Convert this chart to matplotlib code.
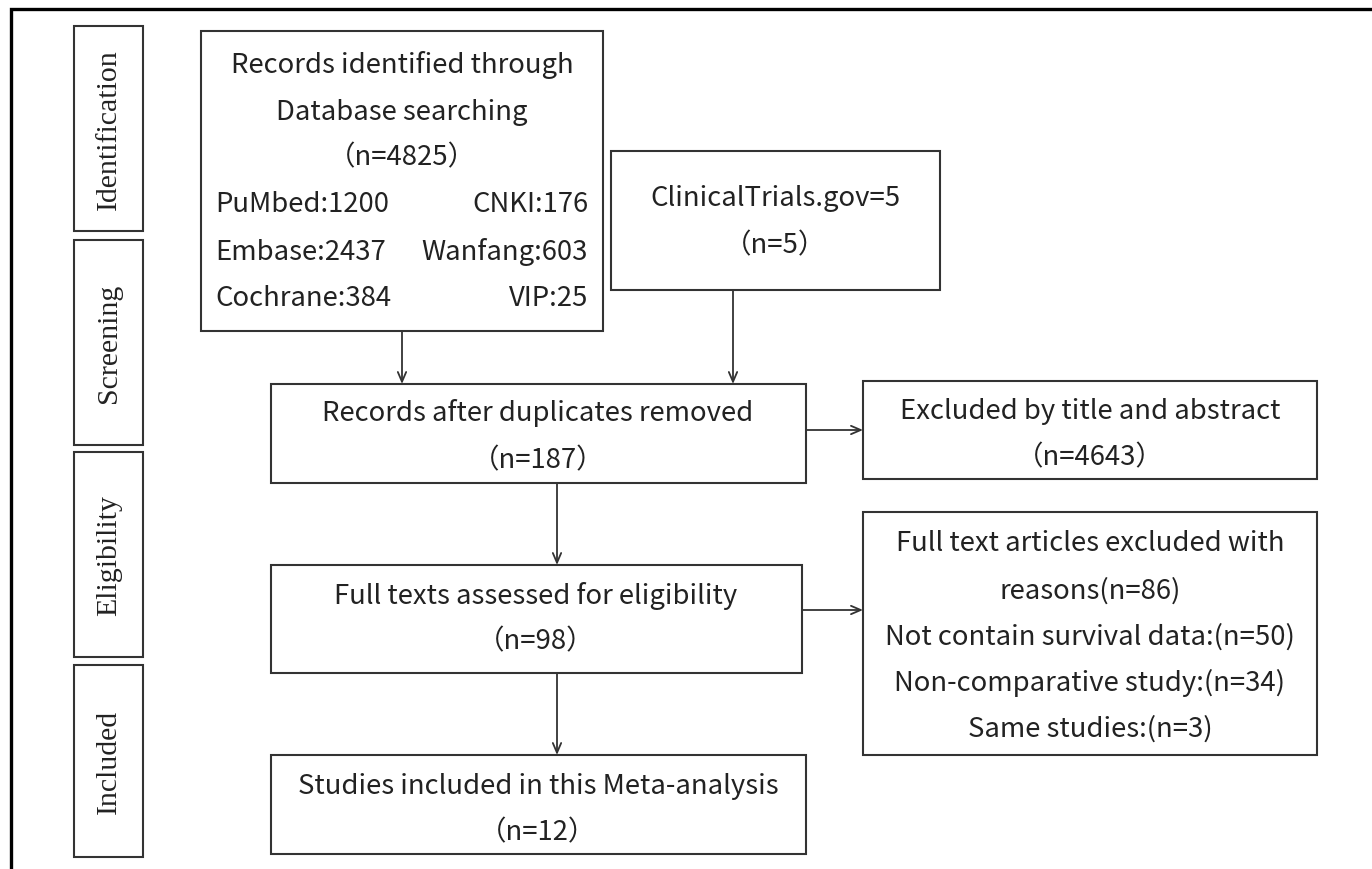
import matplotlib
matplotlib.use('Agg')
import matplotlib.pyplot as plt
from matplotlib.patches import Rectangle

plt.rcParams['font.family'] = ['Noto Sans CJK SC', 'DejaVu Sans']

# Data
stages = ['Identification', 'Screening', 'Eligibility', 'Included']
database_n = 4825
db_names = ['PuMbed', 'CNKI', 'Embase', 'Wanfang', 'Cochrane', 'VIP']
db_counts = [1200, 176, 2437, 603, 384, 25]
trials_n = 5
after_dup_n = 187
excl_title_n = 4643
fulltext_n = 98
excl_full_n = 86
reasons = ['Not contain survival data', 'Non-comparative study', 'Same studies']
reason_counts = [50, 34, 3]
included_n = 12

# Layout (pixel coordinates, y downwards)
edge = '#333333'
tcol = '#222222'
fs = 19.8
lw_box = 1.5

fig = plt.figure(figsize=(13.72, 8.70), dpi=100)
ax = fig.add_axes([0, 0, 1, 1])
ax.set_xlim(0, 1372)
ax.set_ylim(870, 0)
ax.axis('off')

# outer frame (only top and left visible)
ax.plot([11, 11, 1372], [870, 10, 10], color='black', lw=2.4, solid_joinstyle='miter')


def box(x0, y0, x1, y1):
    ax.add_patch(Rectangle((x0, y0), x1 - x0, y1 - y0, fill=False, ec=edge, lw=lw_box))


def lines(xc, ys, texts, ha='center'):
    for y, t in zip(ys, texts):
        ax.text(xc, y, t, ha=ha, va='center', fontsize=fs, color=tcol)


def arrow(x0, y0, x1, y1):
    ax.annotate('', xy=(x1, y1), xytext=(x0, y0),
                arrowprops=dict(arrowstyle='->,head_length=0.7,head_width=0.3',
                                color=edge, lw=1.3, shrinkA=0, shrinkB=0))


# stage boxes
stage_y = [(27, 232), (241, 446), (453, 658), (666, 858)]
for name, (y0, y1) in zip(stages, stage_y):
    box(74, y0, 143, y1)
    ax.text(109, (y0 + y1) / 2, name, rotation=90, ha='center', va='center',
            fontsize=21.5, color=tcol, family=['Liberation Serif', 'DejaVu Serif'])

# database box
box(201, 32, 603, 332)
lines(402, [65, 112, 158], ['Records identified through', 'Database searching',
                            '（n=%d）' % database_n])
row_y = [205, 252, 299]
for i, y in enumerate(row_y):
    ax.text(215, y, '%s:%d' % (db_names[2 * i], db_counts[2 * i]),
            ha='left', va='center', fontsize=fs, color=tcol)
    ax.text(588, y, '%s:%d' % (db_names[2 * i + 1], db_counts[2 * i + 1]),
            ha='right', va='center', fontsize=fs, color=tcol)

# clinical trials box
box(611, 152, 940, 291)
lines(775, [198, 246], ['ClinicalTrials.gov=%d' % trials_n, '（n=%d）' % trials_n])

# after duplicates
box(271, 385, 806, 484)
lines(538, [413, 461], ['Records after duplicates removed', '（n=%d）' % after_dup_n])

# excluded by title
box(863, 382, 1317, 480)
lines(1090, [412, 458], ['Excluded by title and abstract', '（n=%d）' % excl_title_n])

# full texts
box(271, 566, 802, 674)
lines(536, [596, 642], ['Full texts assessed for eligibility', '（n=%d）' % fulltext_n])

# excluded full texts
box(863, 513, 1317, 756)
excl_lines = ['Full text articles excluded with', 'reasons(n=%d)' % excl_full_n]
excl_lines += ['%s:(n=%d)' % (r, c) for r, c in zip(reasons, reason_counts)]
lines(1090, [544, 591, 637, 683, 729], excl_lines)

# included
box(271, 756, 806, 855)
lines(538, [787, 833], ['Studies included in this Meta-analysis', '（n=%d）' % included_n])

# arrows
arrow(402, 332, 402, 385)
arrow(733, 291, 733, 385)
arrow(806, 431, 863, 431)
arrow(557, 484, 557, 566)
arrow(802, 611, 863, 611)
arrow(557, 674, 557, 756)

fig.savefig('out.png', dpi=100, facecolor='white')
